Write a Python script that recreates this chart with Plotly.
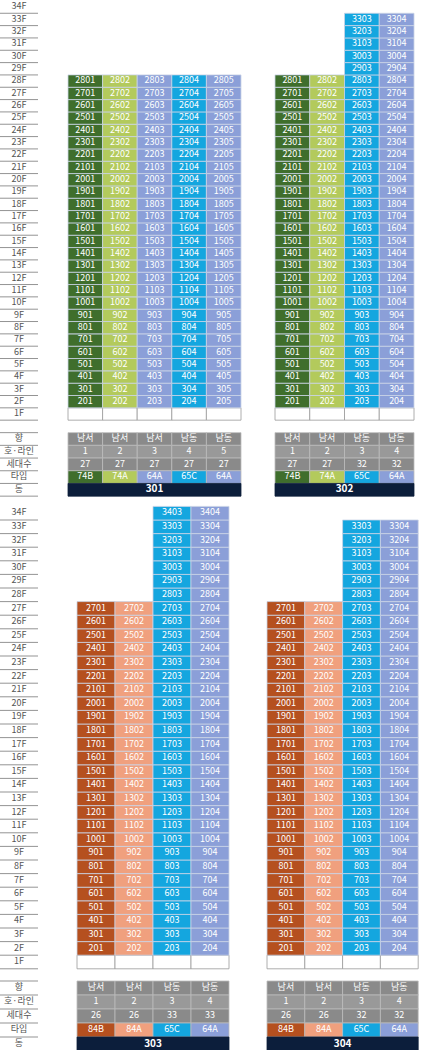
"""Apartment unit layout (동/호수 배치도)"""
import plotly.graph_objects as go

# ---- data ----
buildings = ["301", "302", "303", "304"]
top_floor = {
    "301": [28, 28, 28, 28, 28],
    "302": [28, 28, 33, 33],
    "303": [27, 27, 34, 34],
    "304": [27, 27, 33, 33],
}
unit_types = {
    "301": ["74B", "74A", "64A", "65C", "64A"],
    "302": ["74B", "74A", "65C", "64A"],
    "303": ["84B", "84A", "65C", "64A"],
    "304": ["84B", "84A", "65C", "64A"],
}
directions = {
    "301": ["남서", "남서", "남서", "남동", "남동"],
    "302": ["남서", "남서", "남동", "남동"],
    "303": ["남서", "남서", "남동", "남동"],
    "304": ["남서", "남서", "남동", "남동"],
}
households = {
    "301": [27, 27, 27, 27, 27],
    "302": [27, 27, 32, 32],
    "303": [26, 26, 33, 33],
    "304": [26, 26, 32, 32],
}
info_labels = ["향", "호·라인", "세대수", "타입", "동"]

type_colors = {
    "74B": "#3f6e2c", "74A": "#b3ca5c", "64A": "#8b9fd8", "65C": "#14a6df",
    "84B": "#b5501f", "84A": "#f0a07e",
}
# layout geometry (pixels): x-left, column width, panel
geom = {
    "301": (68, 34.6, 0), "302": (275, 34.75, 0),
    "303": (77, 38.0, 1), "304": (267, 37.8, 1),
}
panels = [  # y of 1F centre, row height, info row y start, info row step
    (414, 12.33, 439, 12.7),
    (962, 13.6, 988, 14.0),
]

FONT = "Noto Sans CJK KR"
fig = go.Figure()
shapes = []


def rect(x0, y0, x1, y1, fill, line="#c9d3e6"):
    shapes.append(dict(type="rect", x0=x0, x1=x1, y0=y0, y1=y1,
                       fillcolor=fill, line=dict(color=line, width=0.8),
                       layer="below"))


# floor labels on the left
for y1f, rh, iy, istep in panels:
    xs, ys, tx = [], [], []
    for f in range(1, 35):
        y = y1f - (f - 1) * rh
        xs.append(19)
        ys.append(y)
        tx.append(f"{f}F")
        shapes.append(dict(type="line", x0=0, x1=38, y0=y + rh / 2, y1=y + rh / 2,
                           line=dict(color="#666", width=0.7)))
    for i, lab in enumerate(info_labels):
        y = iy + i * istep
        xs.append(19)
        ys.append(y)
        tx.append(lab)
        shapes.append(dict(type="line", x0=0, x1=38, y0=y + istep / 2, y1=y + istep / 2,
                           line=dict(color="#666", width=0.7)))
    shapes.append(dict(type="line", x0=0, x1=38, y0=iy - istep / 2, y1=iy - istep / 2,
                       line=dict(color="#666", width=0.7)))
    fig.add_trace(go.Scatter(x=xs, y=ys, text=tx, mode="text",
                             textfont=dict(family=FONT, size=9, color="#555"),
                             hoverinfo="skip"))

for b in buildings:
    x0, cw, p = geom[b]
    y1f, rh, iy, istep = panels[p]
    xs, ys, tx = [], [], []
    ncol = len(unit_types[b])
    for c in range(ncol):
        cx0 = x0 + c * cw
        col = type_colors[unit_types[b][c]]
        # 1F empty
        rect(cx0, y1f - rh / 2, cx0 + cw, y1f + rh / 2, "white", "#999")
        for f in range(2, top_floor[b][c] + 1):
            y = y1f - (f - 1) * rh
            rect(cx0, y - rh / 2, cx0 + cw, y + rh / 2, col)
            xs.append(cx0 + cw / 2)
            ys.append(y)
            tx.append(f"{f}{c + 1:02d}")
        # info rows
        rows = [directions[b][c], str(c + 1), str(households[b][c]), unit_types[b][c]]
        fills = ["#8a8a8a", "#999999", "#8a8a8a", col]
        for i, (t, fc) in enumerate(zip(rows, fills)):
            y = iy + i * istep
            rect(cx0, y - istep / 2, cx0 + cw, y + istep / 2, fc, "#bbbbbb")
            xs.append(cx0 + cw / 2)
            ys.append(y)
            tx.append(t)
    yd = iy + 4 * istep
    rect(x0, yd - istep / 2, x0 + ncol * cw, yd + istep / 2, "#0c1e3b", "#0c1e3b")
    fig.add_trace(go.Scatter(x=xs, y=ys, text=tx, mode="text",
                             textfont=dict(family=FONT, size=9, color="white"),
                             hoverinfo="skip"))
    fig.add_trace(go.Scatter(x=[x0 + ncol * cw / 2], y=[yd], text=[f"<b>{b}</b>"],
                             mode="text",
                             textfont=dict(family=FONT, size=10, color="white"),
                             hoverinfo="skip"))

fig.update_layout(
    width=423, height=1050, margin=dict(l=0, r=0, t=0, b=0),
    plot_bgcolor="white", paper_bgcolor="white", showlegend=False,
    shapes=shapes,
    xaxis=dict(range=[0, 423], visible=False, fixedrange=True),
    yaxis=dict(range=[1050, 0], visible=False, fixedrange=True),
)
fig.write_html("out.html", config={"displayModeBar": False},
               post_script="document.body.style.margin='0';"
                           "document.body.style.overflow='hidden';")
